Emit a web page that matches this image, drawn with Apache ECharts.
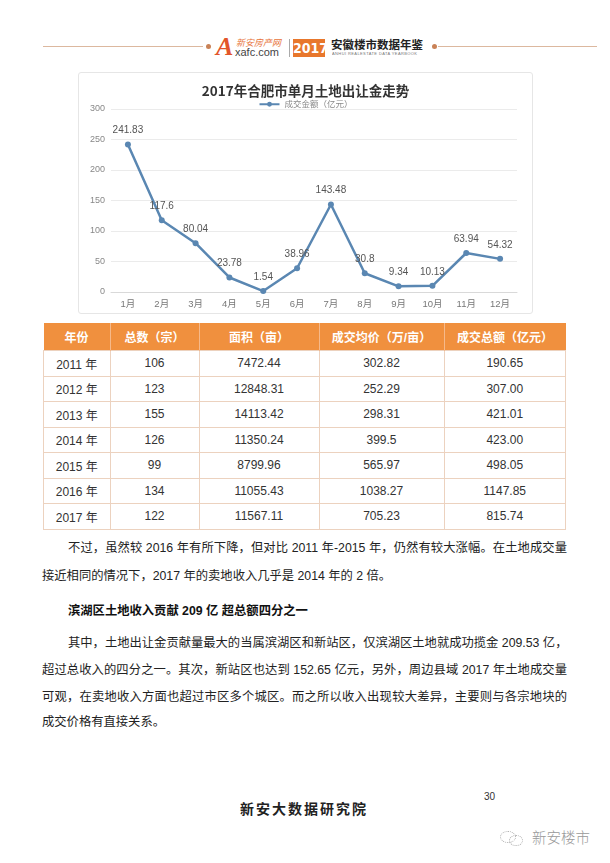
<!DOCTYPE html>
<html>
<head>
<meta charset="utf-8">
<script src="https://cdn.jsdelivr.net/npm/echarts@6/dist/echarts.min.js"></script>
<style>
  html, body { margin:0; padding:0; background:#fff; }
  body { width:610px; height:863px; position:relative; overflow:hidden;
         font-family:"Liberation Sans","Noto Sans CJK SC",sans-serif; color:#333; }
  .abs { position:absolute; }
  .hline { position:absolute; height:1px; background:#dcb89f; top:46px; }
  .dot { position:absolute; width:5px; height:5px; border-radius:50%; background:#c98257; top:44px; }
  #chartBox { position:absolute; left:78px; top:72px; width:453px; height:240px;
              border:1px solid #e6e6e6; border-radius:3px; }
  #chart { width:453px; height:240px; }
  table { position:absolute; left:43px; top:323px; border-collapse:collapse; font-size:12px; }
  th { background:#f0903e; color:#fff; font-weight:bold; height:27px; padding:0; font-size:12px;
       border-left:1px solid #f6b98a; }
  th:first-child { border-left:none; }
  td { height:24.5px; padding:0; text-align:center; color:#333; border:1px solid #ecd2bf; }
  .line { position:absolute; left:42px; width:525px; font-size:12.3px; line-height:26px; height:26px;
          white-space:nowrap; text-align:justify; text-align-last:justify; color:#222; }
  .last { text-align-last:left; }
</style>
</head>
<body>
<!-- header -->
<div class="hline" style="left:43px;width:160px;"></div>
<div class="dot" style="left:206px;"></div>
<div class="abs" style="left:216px;top:34px;font-size:26px;font-style:italic;font-weight:bold;color:#e2552a;line-height:26px;font-family:'Liberation Serif',serif;">A</div>
<div class="abs" style="left:236px;top:38px;font-size:9px;color:#e8743b;line-height:10px;font-style:italic;font-family:'Noto Sans CJK SC';">新安房产网</div>
<div class="abs" style="left:235px;top:47px;font-size:11px;color:#444;line-height:11px;font-family:'Liberation Sans';">xafc.com</div>
<div class="abs" style="left:289px;top:39px;width:1px;height:18px;background:#aaa;"></div>
<div class="abs" style="left:293px;top:39px;width:32px;height:18px;background:#e8772c;color:#fff;font-weight:bold;font-size:14px;line-height:18px;text-align:center;font-family:'Liberation Sans Narrow','DejaVu Sans Condensed',sans-serif;overflow:hidden;">2017</div>
<div class="abs" style="left:331px;top:38px;font-size:11.5px;font-weight:bold;color:#222;line-height:13px;letter-spacing:0px;font-family:'Noto Sans CJK SC';">安徽楼市数据年鉴</div>
<div class="abs" style="left:332px;top:52px;width:92px;font-size:4px;color:#777;line-height:4px;letter-spacing:0.4px;white-space:nowrap;overflow:hidden;">ANHUI REALESTATE DATA YEARBOOK</div>
<div class="dot" style="left:432px;"></div>
<div class="hline" style="left:438px;width:159px;"></div>

<!-- chart -->
<div id="chartBox"><div id="chart"></div></div>

<!-- table -->
<table id="tbl"></table>

<!-- text -->
<div class="line" style="top:535px;left:68px;width:499px;">不过，虽然较 2016 年有所下降，但对比 2011 年-2015 年，仍然有较大涨幅。在土地成交量</div>
<div class="line last" style="top:563px;">接近相同的情况下，2017 年的卖地收入几乎是 2014 年的 2 倍。</div>
<div class="line last" style="top:598px;left:68px;width:499px;font-weight:bold;color:#111;">滨湖区土地收入贡献 209 亿 超总额四分之一</div>
<div class="line" style="top:630px;left:68px;width:499px;">其中，土地出让金贡献量最大的当属滨湖区和新站区，仅滨湖区土地就成功揽金 209.53 亿，</div>
<div class="line" style="top:657px;">超过总收入的四分之一。其次，新站区也达到 152.65 亿元，另外，周边县域 2017 年土地成交量</div>
<div class="line" style="top:684px;">可观，在卖地收入方面也超过市区多个城区。而之所以收入出现较大差异，主要则与各宗地块的</div>
<div class="line last" style="top:709px;">成交价格有直接关系。</div>

<!-- footer -->
<div class="abs" style="left:240px;top:798px;font-size:14px;line-height:20px;letter-spacing:2px;color:#222;font-weight:bold;font-family:'Noto Sans CJK SC';">新安大数据研究院</div>
<div class="abs" style="left:484px;top:791px;font-size:10px;line-height:12px;color:#333;">30</div>
<div class="abs" style="left:498px;top:829px;width:30px;height:16px;">
  <div class="abs" style="left:2px;top:2px;width:14px;height:10px;border:1px dotted #aaa;border-radius:50%;"></div>
  <div class="abs" style="left:11px;top:6px;width:12px;height:9px;border:1px dotted #aaa;border-radius:50%;"></div>
</div>
<div class="abs" style="left:532px;top:828px;font-size:14.5px;line-height:18px;color:#999;font-family:'Noto Sans CJK SC';font-weight:300;">新安楼市</div>

<script>
// ---- chart data ----
var months = ['1月','2月','3月','4月','5月','6月','7月','8月','9月','10月','11月','12月'];
var amounts = [241.83, 117.6, 80.04, 23.78, 1.54, 38.96, 143.48, 30.8, 9.34, 10.13, 63.94, 54.32];
var seriesName = '成交金额（亿元）';
var chartTitle = '2017年合肥市单月土地出让金走势';

// ---- table data ----
var tableHeaders = ['年份','总数（宗）','面积（亩）','成交均价（万/亩）','成交总额（亿元）'];
var years = ['2011 年','2012 年','2013 年','2014 年','2015 年','2016 年','2017 年'];
var counts = ['106','123','155','126','99','134','122'];
var areas = ['7472.44','12848.31','14113.42','11350.24','8799.96','11055.43','11567.11'];
var prices = ['302.82','252.29','298.31','399.5','565.97','1038.27','705.23'];
var totals = ['190.65','307.00','421.01','423.00','498.05','1147.85','815.74'];

// build table
var colW = [66, 88, 119, 124, 121];
var tbl = document.getElementById('tbl');
var h = '<tr>' + tableHeaders.map(function(t,i){return '<th style="width:'+colW[i]+'px">'+t+'</th>';}).join('') + '</tr>';
for (var r = 0; r < years.length; r++) {
  h += '<tr><td>'+years[r]+'</td><td>'+counts[r]+'</td><td>'+areas[r]+'</td><td>'+prices[r]+'</td><td>'+totals[r]+'</td></tr>';
}
tbl.innerHTML = h;

var chart = echarts.init(document.getElementById('chart'), null, {renderer:'canvas'});
var lineColor = '#5a87b2';
chart.setOption({
  animation: false,
  textStyle: { fontFamily: 'Liberation Sans, Noto Sans CJK SC, sans-serif' },
  title: {
    text: chartTitle, left: 'center', top: 6,
    textStyle: { fontSize: 13.5, fontWeight: 'bold', color: '#333', fontFamily: 'Noto Sans CJK SC' }
  },
  legend: {
    data: [seriesName], top: 22, left: 'center', itemWidth: 20, itemHeight: 6,
    textStyle: { fontSize: 8.5, color: '#888', fontFamily: 'Noto Sans CJK SC' }
  },
  grid: { left: 32, right: 15, top: 36, bottom: 21, containLabel: false },
  xAxis: {
    type: 'category', data: months, boundaryGap: true,
    axisLine: { lineStyle: { color: '#d9d9d9' } },
    axisTick: { show: false },
    axisLabel: { fontSize: 9.5, color: '#777', margin: 8 }
  },
  yAxis: {
    type: 'value', min: 0, max: 300, interval: 50,
    axisLine: { show: false }, axisTick: { show: false },
    axisLabel: { fontSize: 9, color: '#888', margin: 6 },
    splitLine: { lineStyle: { color: '#ebebeb' } }
  },
  series: [{
    name: seriesName, type: 'line', data: amounts,
    symbol: 'circle', symbolSize: 6,
    lineStyle: { color: lineColor, width: 2.5 },
    itemStyle: { color: lineColor },
    label: { show: true, position: 'top', fontSize: 10, color: '#555', distance: 6 }
  }]
});
</script>
</body>
</html>
